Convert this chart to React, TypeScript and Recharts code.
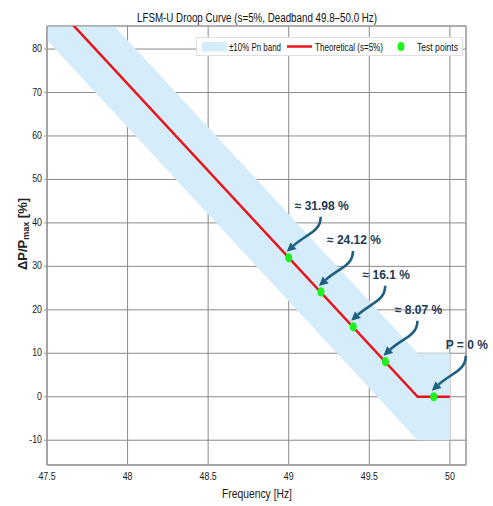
import {
  ComposedChart,
  Area,
  Line,
  Scatter,
  XAxis,
  YAxis,
  CartesianGrid,
  ReferenceArea,
} from "recharts";

const FONT = "'Liberation Sans', Arial, sans-serif";

// droop curve knots (Hz) and theoretical response (%)
const freqs = [47.5, 49.8, 50.0];
const theoretical = [92, 0, 0];
// ±10% Pn tolerance band
const bandLow = [82, -10, -10];
const bandHigh = [102, 10, 10];

// measured test points
const testFreqs = [49.0, 49.2, 49.4, 49.6, 49.9];
const testValues = [31.98, 24.12, 16.1, 8.07, 0];
const testLabels = ["≈ 31.98 %", "≈ 24.12 %", "≈ 16.1 %", "≈ 8.07 %", "P = 0 %"];

const xTicks = [47.5, 48, 48.5, 49, 49.5, 50];
const yTicks = [-10, 0, 10, 20, 30, 40, 50, 60, 70, 80];
const xDomain = [47.5, 50.1];
const yDomain = [-15.7, 85.3];

const curveData = freqs.map((f, i) => ({
  f,
  p: theoretical[i],
  band: [bandLow[i], bandHigh[i]],
}));

const testData = testFreqs.map((f, i) => ({ f, p: testValues[i], label: testLabels[i] }));

const ARROW = "#1f5f82";
const NAVY = "#1d3a54";
const BAND = "#d5edfa";
const RED = "#e8141b";
const GREEN = "#1ef21e";

// narrow-looking tick text (no condensed font installed)
function NarrowTick(props: any) {
  const { x, y, payload, textAnchor, dy } = props;
  return (
    <text
      transform={`translate(${x},${y}) scale(0.77,1)`}
      textAnchor={textAnchor}
      dominantBaseline="middle"
      dy={dy}
      fontFamily={FONT}
      fontSize={11.5}
      fill="#1a1a1a"
    >
      {payload.value}
    </text>
  );
}

function TestPoint(props: any) {
  const { cx, cy, payload } = props;
  if (cx == null || cy == null) return null;
  // arrow from label down to the point
  const p0 = [cx + 32, cy - 41];
  const p1 = [cx + 32, cy - 26];
  const p2 = [cx + 18, cy - 24];
  const tip = [cx - 2, cy - 6];
  const dx = tip[0] - p2[0];
  const dy = tip[1] - p2[1];
  const len = Math.sqrt(dx * dx + dy * dy);
  const ux = dx / len;
  const uy = dy / len;
  const hl = 9;
  const hw = 4.5;
  const base = [tip[0] - ux * hl, tip[1] - uy * hl];
  const left = [base[0] - uy * hw, base[1] + ux * hw];
  const right = [base[0] + uy * hw, base[1] - ux * hw];
  return (
    <g>
      <path
        d={`M${p0[0]},${p0[1]} C${p1[0]},${p1[1]} ${p2[0]},${p2[1]} ${base[0]},${base[1]}`}
        fill="none"
        stroke={ARROW}
        strokeWidth={2.6}
      />
      <polygon
        points={`${tip[0]},${tip[1]} ${left[0]},${left[1]} ${right[0]},${right[1]}`}
        fill={ARROW}
      />
      <ellipse cx={cx} cy={cy} rx={3.6} ry={4.6} fill={GREEN} />
      <text
        x={cx + 33}
        y={cy - 48}
        textAnchor="middle"
        fontFamily={FONT}
        fontWeight="bold"
        fontSize={12}
        fill={NAVY}
      >
        {payload.label}
      </text>
    </g>
  );
}

function LegendBox() {
  const txt = { fontFamily: FONT, fontSize: 11.5, fill: "#111", lengthAdjust: "spacingAndGlyphs" } as const;
  return (
    <svg
      width={267}
      height={19}
      style={{ position: "absolute", left: 196, top: 37, overflow: "visible" }}
    >
      <rect x={0.5} y={0.5} width={266} height={18} fill="#fff" stroke="#e0e0e0" />
      <rect x={6} y={5} width={25} height={9.5} fill={BAND} />
      <text x={33} y={13.5} textLength={52} {...txt}>
        ±10% Pn band
      </text>
      <line x1={91} x2={116} y1={9.5} y2={9.5} stroke={RED} strokeWidth={2.5} />
      <text x={119} y={13.5} textLength={68} {...txt}>
        Theoretical (s=5%)
      </text>
      <ellipse cx={205} cy={9.5} rx={3.5} ry={4.5} fill={GREEN} />
      <text x={221} y={13.5} textLength={41} {...txt}>
        Test points
      </text>
    </svg>
  );
}

function YLabel() {
  return (
    <text
      x={24}
      y={234}
      transform="rotate(-90 24 234)"
      textAnchor="middle"
      dominantBaseline="middle"
      fontFamily={FONT}
      fontWeight="bold"
      fontSize={13}
      fill="#222"
    >
      ΔP/P
      <tspan fontSize={9} dy={3}>
        max
      </tspan>
      <tspan dy={-3}> [%]</tspan>
    </text>
  );
}

function XLabel() {
  return (
    <text
      x={257}
      y={498}
      textAnchor="middle"
      textLength={70}
      lengthAdjust="spacingAndGlyphs"
      fontFamily={FONT}
      fontSize={13.5}
      fill="#1a1a1a"
    >
      Frequency [Hz]
    </text>
  );
}

export default function App() {
  return (
    <div style={{ position: "absolute", left: 0, top: 0, width: 493, height: 506, background: "#fff" }}>
      <ComposedChart
        width={493}
        height={506}
        data={curveData}
        margin={{ top: 26, right: 27, left: 0, bottom: 0 }}
      >
        <text
          x={257}
          y={22}
          textAnchor="middle"
          textLength={240}
          lengthAdjust="spacingAndGlyphs"
          fontFamily={FONT}
          fontSize={12.5}
          fill="#111"
        >
          LFSM-U Droop Curve (s=5%, Deadband 49.8–50.0 Hz)
        </text>
        <CartesianGrid stroke="#8a8a8a" strokeWidth={1} />
        <XAxis
          dataKey="f"
          type="number"
          domain={xDomain}
          ticks={xTicks}
          allowDataOverflow
          height={41}
          axisLine={{ stroke: "#999" }}
          tickLine={false}
          tick={<NarrowTick />}
          tickMargin={6}
          label={<XLabel />}
        />
        <YAxis
          type="number"
          domain={yDomain}
          ticks={yTicks}
          allowDataOverflow
          width={47}
          axisLine={{ stroke: "#999" }}
          tickSize={3}
          tickLine={{ stroke: "#999" }}
          tick={<NarrowTick />}
          label={<YLabel />}
        />
        <XAxis xAxisId="pts" dataKey="f" type="number" domain={xDomain} hide />
        <YAxis yAxisId="pts" type="number" domain={yDomain} hide />
        <Area
          dataKey="band"
          type="linear"
          stroke="none"
          fill={BAND}
          fillOpacity={1}
          isAnimationActive={false}
          activeDot={false}
        />
        <ReferenceArea
          x1={47.5}
          x2={50.1}
          y1={-15.7}
          y2={85.3}
          fill="none"
          stroke="#999"
          ifOverflow="visible"
        />
        <Line
          dataKey="p"
          type="linear"
          stroke={RED}
          strokeWidth={2.5}
          dot={false}
          activeDot={false}
          isAnimationActive={false}
        />
        <Scatter
          data={testData}
          dataKey="p"
          xAxisId="pts"
          yAxisId="pts"
          shape={TestPoint}
          isAnimationActive={false}
        />
      </ComposedChart>
      <LegendBox />
    </div>
  );
}
